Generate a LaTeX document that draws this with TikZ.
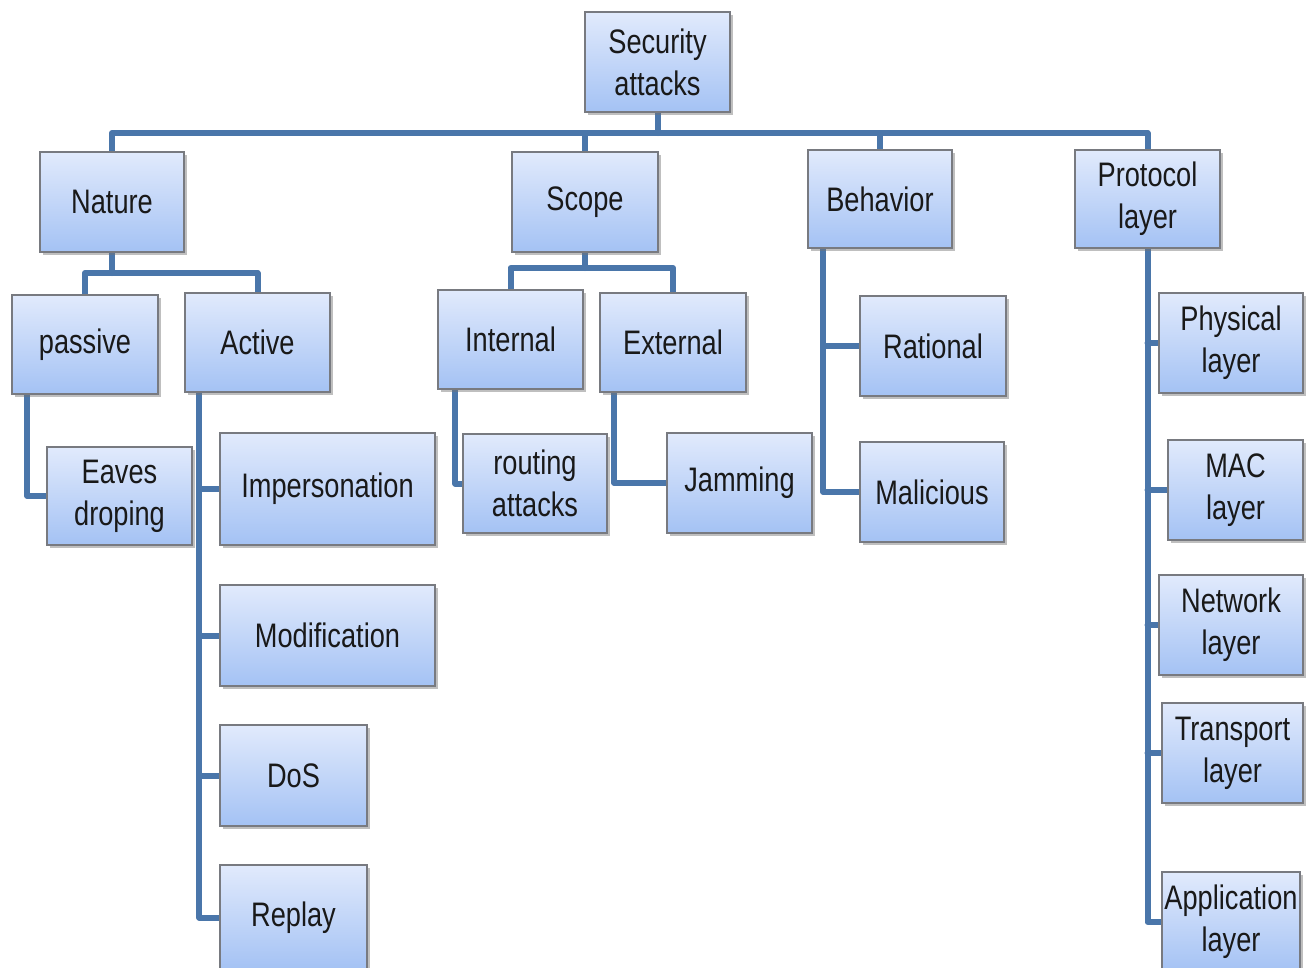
\documentclass[tikz,border=0pt]{standalone}
\usepackage{fontspec}
\setmainfont{Liberation Sans}[FakeStretch=0.8]
\usetikzlibrary{shadows,backgrounds}
\definecolor{linec}{RGB}{74,118,170}
\definecolor{boxtop}{RGB}{225,234,252}
\definecolor{boxbot}{RGB}{164,194,244}
\definecolor{boxdraw}{RGB}{120,122,128}
\tikzset{
  box/.style={draw=boxdraw, line width=1.4pt, top color=boxtop, bottom color=boxbot,
    inner sep=0pt, align=center, text=black!90,
    font=\fontsize{34}{42}\selectfont,
    drop shadow={shadow xshift=3pt, shadow yshift=-3pt, fill=black!55, opacity=0.45}},
  conn/.style={draw=linec, line width=6pt, line join=round, line cap=round}
}
\newcommand\bx[6]{\node[box, minimum width={(#4-#2)*1pt}, minimum height={(#5-#3)*1pt}] (#1) at ({(#2+#4)/2},{(#3+#5)/2}) {#6};}
\begin{document}
\begin{tikzpicture}[x=1pt,y=-1pt]
\clip (0,0) rectangle (1309,967);
% level 0
\bx{root}{585}{12}{730}{112}{Security\\attacks}
% level 1
\bx{nature}{40}{152}{184}{252}{Nature}
\bx{scope}{512}{152}{658}{252}{Scope}
\bx{behav}{808}{150}{952}{248}{Behavior}
\bx{proto}{1075}{150}{1220}{248}{Protocol\\layer}
% level 2
\bx{passive}{12}{295}{158}{394}{passive}
\bx{active}{185}{293}{330}{392}{Active}
\bx{internal}{438}{290}{583}{389}{Internal}
\bx{external}{600}{293}{746}{392}{External}
\bx{rational}{860}{296}{1006}{396}{Rational}
\bx{malicious}{860}{442}{1004}{542}{Malicious}
\bx{phys}{1159}{293}{1303}{393}{Physical\\layer}
\bx{mac}{1168}{440}{1303}{540}{MAC\\layer}
\bx{net}{1159}{575}{1303}{675}{Network\\layer}
\bx{trans}{1162}{703}{1303}{803}{Transport\\layer}
\bx{app}{1162}{872}{1300}{972}{Application\\layer}
% level 3
\bx{eaves}{47}{447}{192}{545}{Eaves\\droping}
\bx{imp}{220}{433}{435}{545}{Impersonation}
\bx{mod}{220}{585}{435}{686}{Modification}
\bx{dos}{220}{725}{367}{826}{DoS}
\bx{replay}{220}{865}{367}{970}{Replay}
\bx{routing}{463}{434}{607}{533}{routing\\attacks}
\bx{jam}{667}{433}{812}{533}{Jamming}
\coordinate (bus) at (0,133);
\coordinate (nbus) at (0,273);
\coordinate (sbus) at (0,268);
\begin{scope}[on background layer]
\fill[white] (0,0) rectangle (1309,967);
\draw[conn] (root.south) -- (root.south |- bus);
\draw[conn] (nature.north) -- (nature.north |- bus) -- (proto.north |- bus) -- (proto.north);
\draw[conn] (scope.north) -- (scope.north |- bus);
\draw[conn] (behav.north) -- (behav.north |- bus);
% nature
\draw[conn] (nature.south) -- (nature.south |- nbus);
\draw[conn] (passive.north) -- (passive.north |- nbus) -- (active.north |- nbus) -- (active.north);
% scope
\draw[conn] (scope.south) -- (scope.south |- sbus);
\draw[conn] (internal.north) -- (internal.north |- sbus) -- (external.north |- sbus) -- (external.north);
% passive
\draw[conn] ([xshift=16pt]passive.south west) |- (eaves.west);
% active
\draw[conn] ([xshift=15pt]active.south west) |- (replay.west);
\draw[conn] ([xshift=15pt]active.south west |- imp.west) -- (imp.west);
\draw[conn] ([xshift=15pt]active.south west |- mod.west) -- (mod.west);
\draw[conn] ([xshift=15pt]active.south west |- dos.west) -- (dos.west);
% internal/external
\draw[conn] ([xshift=18pt]internal.south west) |- (routing.west);
\draw[conn] ([xshift=15pt]external.south west) |- (jam.west);
% behavior
\draw[conn] ([xshift=16pt]behav.south west) |- (malicious.west);
\draw[conn] ([xshift=16pt]behav.south west |- rational.west) -- (rational.west);
% protocol
\draw[conn] (proto.south) |- (app.west);
\draw[conn] (proto.south |- phys.west) -- (phys.west);
\draw[conn] (proto.south |- mac.west) -- (mac.west);
\draw[conn] (proto.south |- net.west) -- (net.west);
\draw[conn] (proto.south |- trans.west) -- (trans.west);
\end{scope}
\end{tikzpicture}
\end{document}
